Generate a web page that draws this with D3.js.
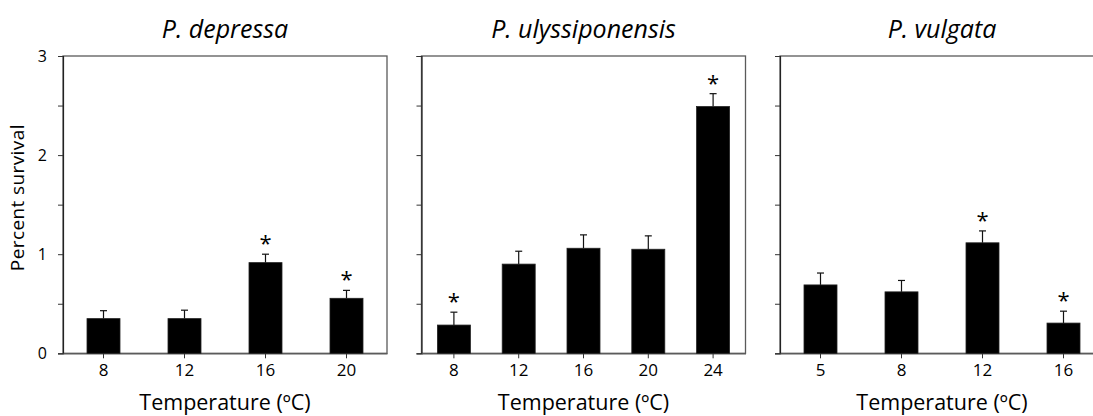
<!DOCTYPE html>
<html>
<head>
<meta charset="utf-8">
<script src="https://cdn.jsdelivr.net/npm/d3@7"></script>
<style>
  html, body { margin: 0; padding: 0; background: #fff; }
  svg { display: block; }
  text { font-family: "Open Sans", "Noto Sans", sans-serif; fill: #000; }
</style>
</head>
<body>
<svg id="chart" width="1093" height="416"></svg>
<script>
// Survival at each rearing temperature, one panel per species
const species = ["P. depressa", "P. ulyssiponensis", "P. vulgata"];
const temperatures = [
  ["8", "12", "16", "20"],
  ["8", "12", "16", "20", "24"],
  ["5", "8", "12", "16"]
];
const survivalMeans = [
  [0.35, 0.35, 0.915, 0.555],
  [0.285, 0.90, 1.06, 1.05, 2.49],
  [0.69, 0.62, 1.115, 0.305]
];
const survivalSE = [
  [0.08, 0.085, 0.085, 0.08],
  [0.13, 0.13, 0.135, 0.135, 0.13],
  [0.12, 0.115, 0.12, 0.12]
];
const significant = [
  [false, false, true, true],
  [true, false, false, false, true],
  [false, false, true, true]
];
const yTicks = [0, 0.5, 1, 1.5, 2, 2.5, 3];
const yLabels = [0, 1, 2, 3];

const svg = d3.select("#chart");
const panelW = 324, plotTop = 56, plotBottom = 353.3;
const panelStep = 358.5, firstLeft = 63;
const barW = 33;

const y = d3.scaleLinear().domain([0, 3]).range([plotBottom, plotTop]);

species.forEach((name, i) => {
  const left = firstLeft + i * panelStep;
  const g = svg.append("g");
  const x = d3.scaleBand().domain(temperatures[i]).range([left, left + panelW]).padding(0);

  // frame
  g.append("rect")
    .attr("x", left).attr("y", plotTop)
    .attr("width", panelW).attr("height", plotBottom - plotTop)
    .attr("fill", "none").attr("stroke", "#5a5a5a").attr("stroke-width", 1.3);

  // y axis
  const yAxis = d3.axisLeft(y).tickValues(yTicks).tickSize(5)
    .tickFormat(d => (i === 0 && yLabels.includes(d)) ? d3.format("d")(d) : "");
  const ya = g.append("g").attr("transform", `translate(${left},0)`).call(yAxis);
  ya.select(".domain").attr("stroke", "#222").attr("stroke-width", 1.2);
  ya.selectAll(".tick line").attr("stroke", "#333");
  ya.selectAll(".tick text").attr("font-size", 16).attr("x", -16)
    .style("font-family", '"Open Sans", sans-serif');

  // x axis
  const xAxis = d3.axisBottom(x).tickSize(5).tickSizeOuter(0);
  const xa = g.append("g").attr("transform", `translate(0,${plotBottom})`).call(xAxis);
  xa.select(".domain").attr("stroke", "#5a5a5a").attr("stroke-width", 1.3);
  xa.selectAll(".tick line").attr("stroke", "#333");
  xa.selectAll(".tick text").attr("font-size", 17).attr("y", 11)
    .style("font-family", '"Open Sans", sans-serif');

  const rows = temperatures[i].map((t, j) => ({
    t, m: survivalMeans[i][j], se: survivalSE[i][j], sig: significant[i][j]
  }));

  // error bars (upper only)
  const eb = g.selectAll(".err").data(rows).enter().append("g");
  eb.append("line")
    .attr("x1", d => x(d.t) + x.bandwidth() / 2).attr("x2", d => x(d.t) + x.bandwidth() / 2)
    .attr("y1", d => y(d.m)).attr("y2", d => y(d.m + d.se))
    .attr("stroke", "#111").attr("stroke-width", 1.2);
  eb.append("line")
    .attr("x1", d => x(d.t) + x.bandwidth() / 2 - 3.5).attr("x2", d => x(d.t) + x.bandwidth() / 2 + 3.5)
    .attr("y1", d => y(d.m + d.se)).attr("y2", d => y(d.m + d.se))
    .attr("stroke", "#111").attr("stroke-width", 1.2);

  // bars
  g.selectAll(".bar").data(rows).enter().append("rect")
    .attr("x", d => x(d.t) + x.bandwidth() / 2 - barW / 2)
    .attr("y", d => y(d.m))
    .attr("width", barW)
    .attr("height", d => y(0) - y(d.m))
    .attr("fill", "#000").attr("stroke", "#222").attr("stroke-width", 0.8);

  // significance markers
  g.selectAll(".sig").data(rows.filter(d => d.sig)).enter().append("text")
    .attr("x", d => x(d.t) + x.bandwidth() / 2)
    .attr("y", d => y(d.m + d.se) - 3)
    .attr("text-anchor", "middle").attr("font-size", 22)
    .text("*");

  // species title
  g.append("text")
    .attr("x", left + panelW / 2).attr("y", 38)
    .attr("text-anchor", "middle").attr("font-size", 25)
    .attr("font-style", "italic")
    .text(name);

  // x axis title
  g.append("text")
    .attr("x", left + panelW / 2).attr("y", 410)
    .attr("text-anchor", "middle").attr("font-size", 21.5)
    .text("Temperature (ºC)");
});

// y axis title
svg.append("text")
  .attr("transform", `translate(24,${(plotTop + plotBottom) / 2 - 7}) rotate(-90)`)
  .attr("text-anchor", "middle").attr("font-size", 19)
  .attr("letter-spacing", 0.4)
  .text("Percent survival");
</script>
</body>
</html>
